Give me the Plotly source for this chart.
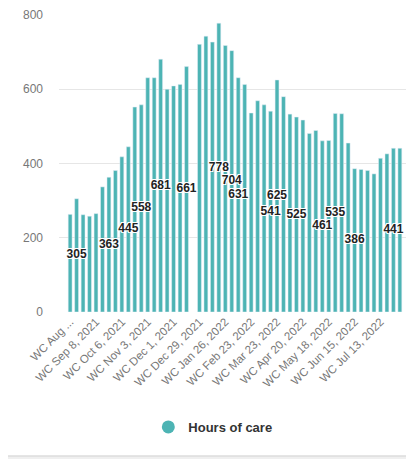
import pandas as pd
import plotly.graph_objects as go

# Categories: weekly "WC" (week commencing) labels
week_starts = pd.date_range("2021-08-11", periods=52, freq="7D")
weeks = [f"WC {d.strftime('%b')} {d.day}, {d.year}" for d in week_starts]

# Hours of care per week (None = no data for that week)
hours = [263, 305, 262, 258, 265, 337, 363, 381, 418, 445,
         552, 558, 631, 631, 681, 600, 609, 613, 661, None,
         721, 743, 727, 778, 718, 704, 631, 613, 536, 569,
         558, 541, 625, 580, 533, 525, 517, 481, 489, 461,
         462, 535, 534, 455, 386, 384, 381, 372, 414, 426,
         441, 441]

# Weeks whose value label is shown
labelled_idx = [1, 6, 9, 11, 14, 18, 23, 25, 26, 31, 32, 35, 39, 41, 44, 50]

# Axis ticks
tick_idx = list(range(0, 52, 4))
tick_text = ["WC Aug ..."] + [weeks[i] for i in tick_idx[1:]]
y_ticks = [0, 200, 400, 600, 800]

teal = "#4DB4B4"

fig = go.Figure()
fig.add_trace(go.Bar(
    x=weeks, y=hours, marker_color=teal, showlegend=False,
    hoverinfo="x+y",
))
fig.add_trace(go.Scatter(
    x=[weeks[i] for i in labelled_idx],
    y=[hours[i] / 2 for i in labelled_idx],
    text=[str(hours[i]) for i in labelled_idx],
    mode="text", showlegend=False, hoverinfo="skip", cliponaxis=False,
    textfont=dict(size=12, color="#222222", family="Liberation Sans, Arial",
                  weight="bold",
                  shadow="-1px -1px 0 #fff, 1px -1px 0 #fff, -1px 1px 0 #fff, 1px 1px 0 #fff"),
))
fig.add_trace(go.Scatter(
    x=[None], y=[None], mode="markers", name="Hours of care",
    marker=dict(color=teal, size=13, symbol="circle"),
))

# The page body adds an 8px margin, so the figure is sized to fit the window.
fig.update_layout(
    width=406, height=451,
    margin=dict(l=51, r=3, t=7, b=147, autoexpand=False),
    paper_bgcolor="#efefef", plot_bgcolor="white",
    font=dict(family="Liberation Sans, Arial", color="#666666"),
    bargap=0.4,
    showlegend=True,
    legend=dict(orientation="h", x=0.437, xanchor="center", y=-0.387, yanchor="middle",
                font=dict(size=13, color="#333333", weight="bold"),
                bgcolor="rgba(0,0,0,0)", itemwidth=30),
    shapes=[dict(type="rect", xref="paper", yref="paper",
                 x0=-0.156, x1=1.003, y0=-0.485, y1=1.044,
                 fillcolor="white", line=dict(color="#dddddd", width=1.5),
                 layer="below")],
)
fig.update_xaxes(
    type="category", tickmode="array", tickvals=[weeks[i] for i in tick_idx],
    ticktext=tick_text, tickangle=-45, tickfont=dict(size=11.5, color="#777777"),
    showgrid=False, showline=False, ticks="", automargin=False,
)
fig.update_yaxes(
    range=[0, 800], tickvals=y_ticks, tickfont=dict(size=12, color="#777777"),
    gridcolor="#e6e6e6", zeroline=False, ticklabelstandoff=15, automargin=False,
)

fig.write_html("out.html")
